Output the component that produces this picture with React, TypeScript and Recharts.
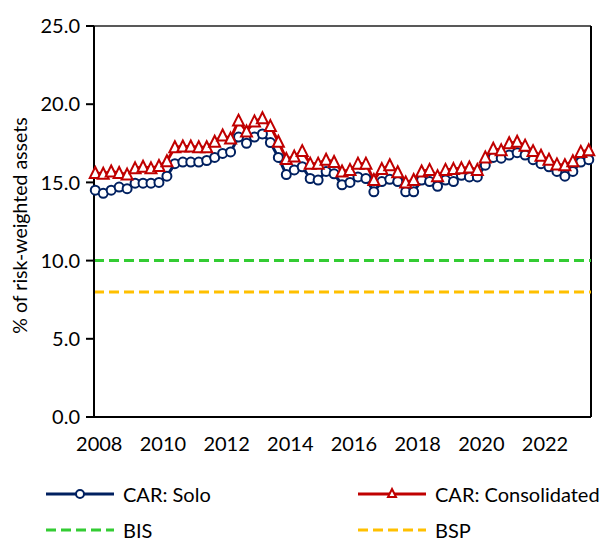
import {
  LineChart,
  Line,
  XAxis,
  YAxis,
  ReferenceLine,
  Legend,
} from "recharts";

// quarterly CAR readings, 2008 Q1 .. 2023 Q3
const START_YEAR = 2008;

const carSolo = [
  14.5, 14.3, 14.5, 14.7, 14.6, 14.95, 14.95, 14.95,
  15.0, 15.4, 16.2, 16.3, 16.3, 16.3, 16.4, 16.6,
  16.85, 16.95, 17.9, 17.5, 17.9, 18.1, 17.55, 16.6,
  15.5, 15.8, 16.0, 15.25, 15.15, 15.7, 15.55, 14.85,
  15.0, 15.35, 15.25, 14.4, 15.05, 15.2, 15.05, 14.4,
  14.4, 15.15, 15.05, 14.75, 15.15, 15.05, 15.45, 15.35,
  15.35, 16.1, 16.6, 16.55, 16.75, 16.9, 16.75, 16.45,
  16.2, 16.0, 15.7, 15.4, 15.7, 16.3, 16.45,
];

const carConsolidated = [
  15.6, 15.55, 15.7, 15.6, 15.5, 15.9, 16.0, 15.9,
  16.05, 16.35, 17.25, 17.3, 17.3, 17.25, 17.25, 17.6,
  18.0, 17.8, 18.95, 18.25, 18.9, 19.1, 18.6, 17.6,
  16.5, 16.65, 17.0, 16.2, 16.2, 16.45, 16.3, 15.7,
  15.8, 16.2, 16.2, 15.15, 15.85, 16.1, 15.65, 15.0,
  15.15, 15.7, 15.8, 15.4, 15.8, 15.85, 15.9, 15.95,
  15.8, 16.6, 17.15, 17.05, 17.5, 17.6, 17.35, 17.0,
  16.7, 16.45, 16.15, 16.1, 16.35, 16.95, 17.05,
];

const bisMinimum = 10;
const bspMinimum = 8;

const yearTicks = [2008, 2010, 2012, 2014, 2016, 2018, 2020, 2022];
const yTicks = [0, 5, 10, 15, 20, 25];

const data = carSolo.map((v, i) => ({
  period: START_YEAR + i / 4,
  solo: v,
  consolidated: carConsolidated[i],
}));

const NAVY = "#002060";
const RED = "#C00000";
const GREEN = "#33CC33";
const GOLD = "#FFC000";
const FONT = "Lato, 'Open Sans', sans-serif";

const X_MIN = 2007.96;
const X_MAX = 2023.57;

const TriangleDot = (props: any) => {
  const { cx, cy } = props;
  if (cx == null || cy == null) return null;
  const w = 5.5;
  const h = 10;
  const d = `M${cx},${cy - h / 2 - 1} L${cx + w},${cy + h / 2} L${cx - w},${cy + h / 2} Z`;
  return (
    <path
      key={`t-${props.index}`}
      d={d}
      fill="#fff"
      stroke={RED}
      strokeWidth={2}
    />
  );
};

const YearTick = ({ x, y, payload }: any) => (
  <text
    x={x + 4}
    y={y}
    dy="0.71em"
    textAnchor="middle"
    fill="#000"
    fontSize={20}
    fontFamily={FONT}
  >
    {payload.value}
  </text>
);

const legendItems = [
  { label: "CAR: Solo", color: NAVY, marker: "circle", dashed: false, col: 0, row: 0 },
  { label: "CAR: Consolidated", color: RED, marker: "triangle", dashed: false, col: 1, row: 0 },
  { label: "BIS", color: GREEN, marker: "none", dashed: true, col: 0, row: 1 },
  { label: "BSP", color: GOLD, marker: "none", dashed: true, col: 1, row: 1 },
];

const colX = [45, 357];
const rowY = [34, 70];

const ChartLegend = () => (
  <div style={{ position: "relative", width: 606, height: 82, fontFamily: FONT, fontSize: 20 }}>
    {legendItems.map((it) => (
      <div
        key={it.label}
        style={{
          position: "absolute",
          left: colX[it.col],
          top: rowY[it.row] - 11,
          height: 22,
          lineHeight: "22px",
          display: "flex",
          alignItems: "center",
          whiteSpace: "nowrap",
        }}
      >
        <svg width={70} height={16} style={{ marginRight: 8 }}>
          <line
            x1={1}
            y1={8}
            x2={69}
            y2={8}
            stroke={it.color}
            strokeWidth={3}
            strokeDasharray={it.dashed ? "10 5" : undefined}
          />
          {it.marker === "circle" && (
            <circle cx={35} cy={8} r={4} fill="#fff" stroke={it.color} strokeWidth={2} />
          )}
          {it.marker === "triangle" && (
            <path d="M35,3 L39,11 L31,11 Z" fill="#fff" stroke={it.color} strokeWidth={2} />
          )}
        </svg>
        <span style={{ color: "#000" }}>{it.label}</span>
      </div>
    ))}
  </div>
);

export default function App() {
  return (
    <div style={{ width: 606, height: 542 }}>
      <style>{`body{margin:0}`}</style>
      <LineChart
        width={606}
        height={542}
        data={data}
        margin={{ top: 26, right: 15, left: 0, bottom: 0 }}
      >
        <XAxis
          dataKey="period"
          type="number"
          domain={[X_MIN, X_MAX]}
          ticks={yearTicks}
          tick={<YearTick />}
          tickLine={false}
          tickSize={8}
          tickMargin={12}
          height={43}
          axisLine={{ stroke: "#000", strokeWidth: 2 }}
        />
        <YAxis
          domain={[0, 25]}
          ticks={yTicks}
          width={94}
          tickSize={8}
          tickMargin={6}
          tickLine={{ stroke: "#000", strokeWidth: 2 }}
          axisLine={{ stroke: "#000", strokeWidth: 2 }}
          tickFormatter={(v: number) => v.toFixed(1)}
          tick={{ fill: "#000", fontSize: 20, fontFamily: FONT }}
          label={{
            value: "% of risk-weighted assets",
            angle: -90,
            position: "insideLeft",
            offset: 20,
            dy: 4,
            style: { textAnchor: "middle", fill: "#000", fontSize: 19.5, fontFamily: FONT },
          }}
        />
        <ReferenceLine y={25} stroke="#595959" strokeWidth={2} />
        <ReferenceLine x={X_MAX} stroke="#000" strokeWidth={2} />
        <ReferenceLine y={bisMinimum} stroke={GREEN} strokeWidth={3} strokeDasharray="10 5" />
        <ReferenceLine y={bspMinimum} stroke={GOLD} strokeWidth={3} strokeDasharray="10 5" />
        <Line
          dataKey="solo"
          name="CAR: Solo"
          stroke={NAVY}
          strokeWidth={3}
          dot={{ r: 4.5, fill: "#fff", stroke: NAVY, strokeWidth: 2 }}
          isAnimationActive={false}
        />
        <Line
          dataKey="consolidated"
          name="CAR: Consolidated"
          stroke={RED}
          strokeWidth={3}
          dot={<TriangleDot />}
          isAnimationActive={false}
        />
        <Legend
          verticalAlign="bottom"
          content={() => <ChartLegend />}
          wrapperStyle={{ left: 0, bottom: 0, width: 606, height: 82 }}
        />
      </LineChart>
    </div>
  );
}
